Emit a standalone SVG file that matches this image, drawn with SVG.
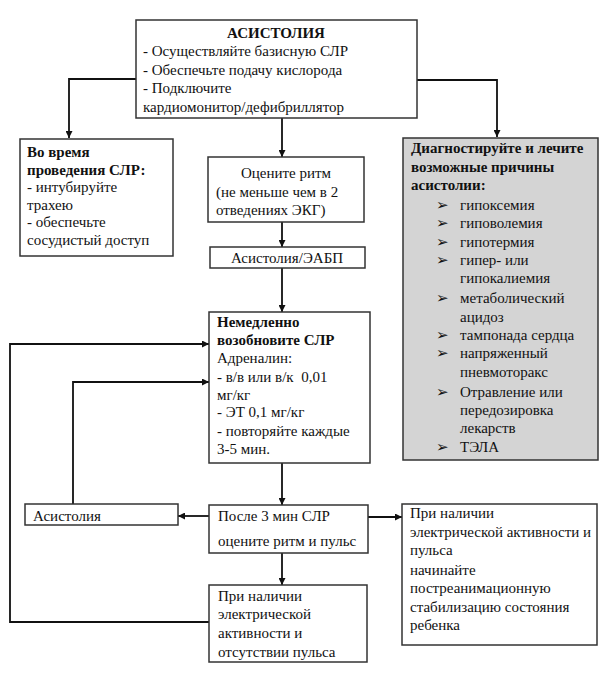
<svg xmlns="http://www.w3.org/2000/svg" width="615" height="680" viewBox="0 0 615 680">
<defs>
<marker id="ah" viewBox="0 0 10 10" refX="10" refY="5" markerWidth="7" markerHeight="7" orient="auto" markerUnits="userSpaceOnUse"><path d="M0,0 L10,5 L0,10 z" fill="#111"/></marker>
<style>
.box{fill:#fff;stroke:#333;stroke-width:1.5}
.gray{fill:#d4d4d4;stroke:#333;stroke-width:1.5}
.t{font-size:15px;fill:#111}
.b{font-weight:bold}
.c{fill:none;stroke:#111;stroke-width:1.8;marker-end:url(#ah)}
</style>
</defs>
<rect width="615" height="680" fill="#fff"/>
<g id="connectors">
<path class="c" d="M136,79 H69 V138"/>
<path class="c" d="M416,80 H497 V137"/>
<path class="c" d="M282,118 V157"/>
<path class="c" d="M282,222 V247"/>
<path class="c" d="M282,268 V312"/>
<path class="c" d="M282,463 V505"/>
<path class="c" d="M209,516 H178"/>
<path class="c" d="M368,517 H402"/>
<path class="c" d="M282,553 V585"/>
<path class="c" d="M73,504 V382 H209"/>
<path class="c" d="M209,622 H10 V344 H209"/>
</g>
<g font-family="Liberation Serif, DejaVu Serif, serif">
<g id="asystole-top">
<rect class="box" x="136" y="20" width="281" height="98"/>
<text class="t b" x="276" y="38" text-anchor="middle" font-size="16">АСИСТОЛИЯ</text>
<text class="t" x="143" y="56">- Осуществляйте базисную СЛР</text>
<text class="t" x="143" y="75">- Обеспечьте подачу кислорода</text>
<text class="t" x="143" y="93">- Подключите</text>
<text class="t" x="143" y="112">кардиомонитор/дефибриллятор</text>
</g>
<g id="during-cpr">
<rect class="box" x="20" y="139" width="153" height="117"/>
<text class="t b" x="27" y="157">Во время</text>
<text class="t b" x="27" y="175">проведения СЛР:</text>
<text class="t" x="27" y="192">- интубируйте</text>
<text class="t" x="27" y="210">трахею</text>
<text class="t" x="27" y="227">- обеспечьте</text>
<text class="t" x="27" y="245">сосудистый доступ</text>
</g>
<g id="assess-rhythm">
<rect class="box" x="208" y="157" width="156" height="65"/>
<text class="t" x="286" y="178" text-anchor="middle">Оцените ритм</text>
<text class="t" x="216" y="197">(не меньше чем в 2</text>
<text class="t" x="216" y="215">отведениях ЭКГ)</text>
</g>
<g id="asystole-pea">
<rect class="box" x="210" y="247" width="155" height="21"/>
<text class="t" x="287" y="263" text-anchor="middle">Асистолия/ЭАБП</text>
</g>
<g id="causes">
<rect class="gray" x="403" y="138" width="195" height="322"/>
<text class="t b" x="411" y="153">Диагностируйте и лечите</text>
<text class="t b" x="411" y="172">возможные причины</text>
<text class="t b" x="411" y="190">асистолии:</text>
<g class="t">
<text x="436" y="210">➢</text><text x="460" y="210">гипоксемия</text>
<text x="436" y="228">➢</text><text x="460" y="228">гиповолемия</text>
<text x="436" y="247">➢</text><text x="460" y="247">гипотермия</text>
<text x="436" y="265">➢</text><text x="460" y="265">гипер- или</text>
<text x="460" y="283">гипокалиемия</text>
<text x="436" y="303">➢</text><text x="460" y="303">метаболический</text>
<text x="460" y="322">ацидоз</text>
<text x="436" y="340">➢</text><text x="460" y="340">тампонада сердца</text>
<text x="436" y="358">➢</text><text x="460" y="358">напряженный</text>
<text x="460" y="377">пневмоторакс</text>
<text x="436" y="397">➢</text><text x="460" y="397">Отравление или</text>
<text x="460" y="415">передозировка</text>
<text x="460" y="433">лекарств</text>
<text x="436" y="452">➢</text><text x="460" y="452">ТЭЛА</text>
</g>
</g>
<g id="resume-cpr">
<rect class="box" x="209" y="312" width="161" height="151"/>
<text class="t b" x="217" y="327">Немедленно</text>
<text class="t b" x="217" y="345">возобновите СЛР</text>
<text class="t" x="217" y="363">Адреналин:</text>
<text class="t" x="217" y="382" xml:space="preserve">- в/в или в/к  0,01</text>
<text class="t" x="217" y="400">мг/кг</text>
<text class="t" x="217" y="417">- ЭТ 0,1 мг/кг</text>
<text class="t" x="217" y="436">- повторяйте каждые</text>
<text class="t" x="217" y="454">3-5 мин.</text>
</g>
<g id="asystole-bottom">
<rect class="box" x="25" y="504" width="153" height="21"/>
<text class="t" x="33" y="521" font-size="16">Асистолия</text>
</g>
<g id="after-3min">
<rect class="box" x="209" y="505" width="159" height="48"/>
<text class="t" x="218" y="521">После 3 мин СЛР</text>
<text class="t" x="218" y="546">оцените ритм и пульс</text>
</g>
<g id="pulse-present">
<rect class="box" x="402" y="504" width="195" height="141"/>
<text class="t" x="410" y="518">При наличии</text>
<text class="t" x="410" y="537">электрической активности и</text>
<text class="t" x="410" y="555">пульса</text>
<text class="t" x="410" y="575">начинайте</text>
<text class="t" x="410" y="593">постреанимационную</text>
<text class="t" x="410" y="612">стабилизацию состояния</text>
<text class="t" x="410" y="630">ребенка</text>
</g>
<g id="pea-no-pulse">
<rect class="box" x="209" y="585" width="158" height="77"/>
<text class="t" x="218" y="601">При наличии</text>
<text class="t" x="218" y="619">электрической</text>
<text class="t" x="218" y="638">активности и</text>
<text class="t" x="218" y="657">отсутствии пульса</text>
</g>
</g>
</svg>
